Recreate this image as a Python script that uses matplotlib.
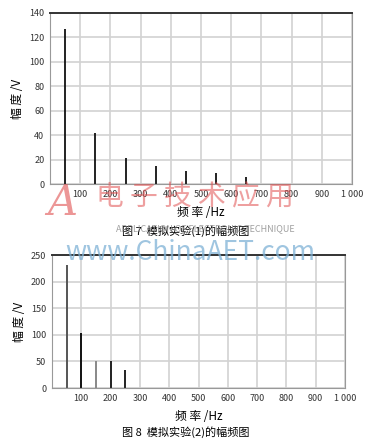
import numpy as np
import matplotlib.pyplot as plt

plt.rcParams['font.family'] = ['Noto Sans CJK SC', 'DejaVu Sans']

# 模拟实验(1)
freq1 = [50, 150, 250, 350, 450, 550, 650]
amp1 = [127, 42, 21, 15, 11, 9, 6]
# 模拟实验(2)
freq2 = [50, 100, 150, 200, 250]
amp2 = [231, 104, 50, 50, 33]
colors2 = ['#555555', '#111111', '#888888', '#222222', '#222222']

xticks = np.arange(100, 1001, 100)
xlabels = [str(v) if v < 1000 else '1 000' for v in xticks]

fig = plt.figure(figsize=(3.72, 4.40), dpi=100)
ax1 = fig.add_axes([50/372, 1-184/440, 302/372, 171/440])
ax2 = fig.add_axes([52/372, 1-388/440, 293/372, 133/440])

def style(ax, ymax, ystep):
    ax.set_xlim(0, 1000)
    ax.set_ylim(0, ymax)
    ax.set_xticks(xticks)
    ax.set_xticklabels(xlabels)
    ax.set_yticks(np.arange(0, ymax + 1, ystep))
    ax.grid(True, color='#d2d2d2', lw=1.2)
    ax.set_axisbelow(True)
    ax.tick_params(length=0, labelsize=6.5, colors='#333333', pad=4)
    for s in ['left', 'bottom', 'right']:
        ax.spines[s].set_color('#999999')
        ax.spines[s].set_linewidth(0.8)
    ax.spines['top'].set_color('#333333')
    ax.spines['top'].set_linewidth(1.4)
    ax.set_xlabel('频 率 /Hz', fontsize=8.5, labelpad=5)
    ax.set_ylabel('幅 度 /V', fontsize=8.5, labelpad=4)

style(ax1, 140, 20)
ax1.vlines(freq1, 0, amp1, colors='#111111', lw=1.3)

style(ax2, 250, 50)
ax2.vlines(freq2, 0, amp2, colors=colors2, lw=1.4)

fig.text(0.5, 1-231/440, '图 7  模拟实验(1)的幅频图', ha='center', va='center', fontsize=8)
fig.text(0.5, 1-432/440, '图 8  模拟实验(2)的幅频图', ha='center', va='center', fontsize=8)

# watermark
fig.text(190/372, 1-252/440, 'www.ChinaAET.com', ha='center', va='center',
         fontsize=19, color='#7fb2d6', alpha=0.75)
fig.text(205/372, 1-229/440, 'APPLICATION OF ELECTRONIC TECHNIQUE', ha='center', va='center',
         fontsize=6.5, color='#888888', alpha=0.8)
fig.text(62/372, 1-203/440, 'A', ha='center', va='center', fontsize=30,
         color='#e05050', alpha=0.6, style='italic', family='DejaVu Serif')
fig.text(195/372, 1-198/440, '电 子 技 术 应 用', ha='center', va='center', fontsize=20,
         color='#e05050', alpha=0.55, style='italic')

fig.savefig('out.png', dpi=100)
